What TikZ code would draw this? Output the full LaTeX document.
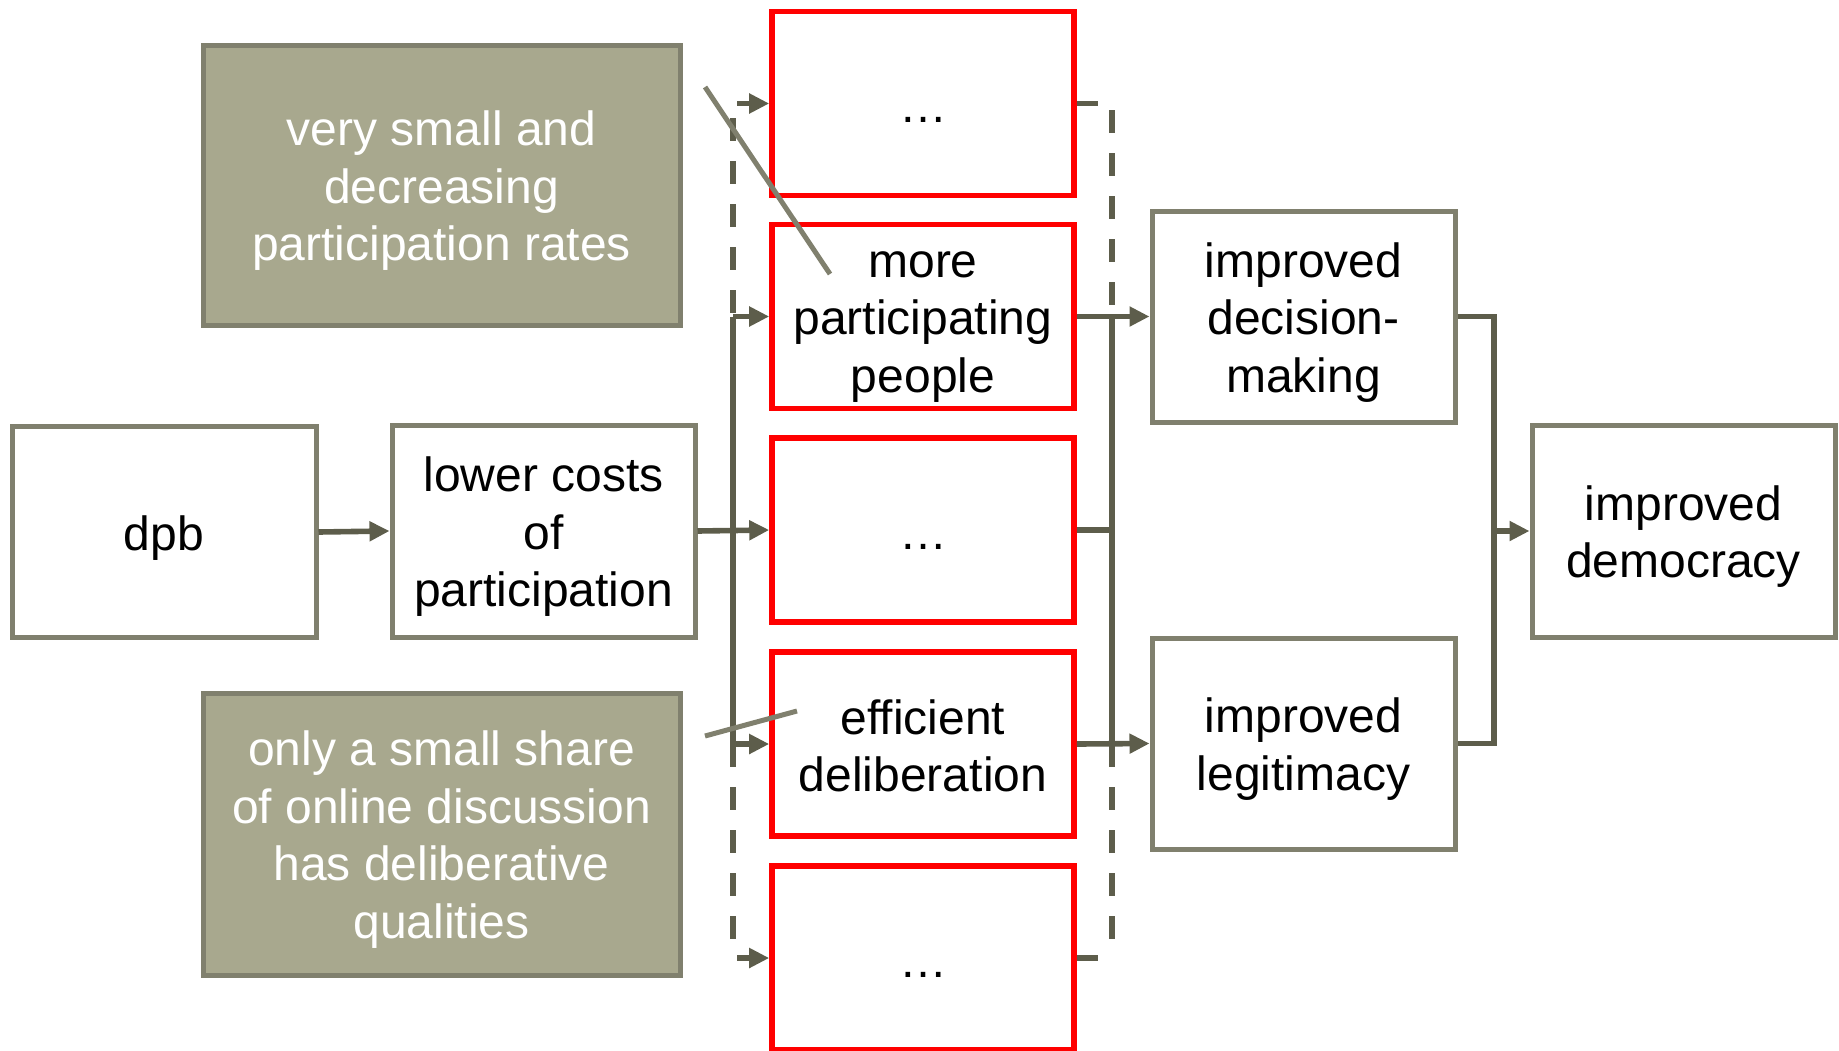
\documentclass[tikz,border=0pt]{standalone}
\usepackage{fontspec}
\setmainfont{Liberation Sans}
\usetikzlibrary{arrows.meta}
\definecolor{bordergray}{RGB}{128,128,110}
\definecolor{fillgray}{RGB}{168,168,142}
\definecolor{conngray}{RGB}{93,93,75}
\definecolor{pure red}{RGB}{255,0,0}
\newcommand\ms{\rule[-4pt]{0pt}{27pt}}
\tikzset{
  box/.style={draw=bordergray, line width=2.5pt, fill=white, align=center,
    minimum width=151.5pt, minimum height=105.5pt, inner sep=0pt,
    font=\fontsize{24}{28.75}\selectfont, text=black},
  graybox/.style={box, fill=fillgray, text=white, minimum width=238.5pt, minimum height=140pt},
  redbox/.style={box, draw=pure red, line width=2.8pt, minimum width=151pt, minimum height=92pt},
  conn/.style={draw=conngray, line width=2.8pt},
  arr/.style={conn, -{Triangle[length=10pt,width=9.5pt]}},
  dashedconn/.style={conn, dash pattern=on 11.5pt off 10pt},
  blockline/.style={draw=bordergray, line width=2.5pt}
}
\begin{document}
\begin{tikzpicture}[x=0.5pt,y=-0.5pt]
\useasboundingbox (0,0) rectangle (1839,1050);
% gray problem boxes
\node[graybox] (g1) at (441.5,185) {\ms very small and\\\ms decreasing\\\ms participation rates};
\node[graybox, minimum height=141pt] (g2) at (441.5,834) {\ms only a small share\\\ms of online discussion\\\ms has deliberative\\\ms qualities};
% left boxes
\node[box, minimum width=152pt] (dpb) at (164,532) {\ms dpb};
\node[box, minimum height=106pt] (lc) at (543.5,531) {\ms lower costs\\\ms of\\\ms participation};
% red boxes
\node[redbox] (r1) at (923,103.5) {\ms …};
\node[redbox] (r2) at (923,316.5) {\ms more\\\ms participating\\\ms people};
\node[redbox] (r3) at (923,530) {\ms …};
\node[redbox] (r4) at (923,744) {\ms efficient\\\ms deliberation};
\node[redbox] (r5) at (923,958) {\ms …};
% right boxes
\node[box] (dm) at (1303.5,316.5) {\ms improved\\\ms decision-\\\ms making};
\node[box] (lg) at (1303.5,743.5) {\ms improved\\\ms legitimacy};
\node[box, minimum height=106pt] (dem) at (1683.5,531) {\ms improved\\\ms democracy};
% coordinates
\coordinate (lb2) at (733,316.5);
\coordinate (lb4) at (733,744);
\coordinate (lbtop) at (733,118);
\coordinate (lbbot) at (733,944);
\coordinate (lstub1) at (737,103.5);
\coordinate (lstub5) at (737,958);
\coordinate (rb2) at (1112,316.5);
\coordinate (rb3) at (1112,530);
\coordinate (rb4) at (1112,744);
\coordinate (rbtop) at (1112,110);
\coordinate (rbbot) at (1112,952);
\coordinate (rstub1) at (1098,103.5);
\coordinate (rstub5) at (1098,958);
\coordinate (jx) at (1494,531);
\coordinate (d1a) at (705,87);
\coordinate (d1b) at (830,274);
\coordinate (d2a) at (705,736);
\coordinate (d2b) at (797,711);
% connectors left
\draw[arr] (dpb.east) -- (lc.west);
\draw[arr] (lc.east) -- (r3.west);
\draw[conn] (lb2) -- (lb4);
\draw[dashedconn] (lbtop) -- (lb2);
\draw[dashedconn] (lb4) -- (lbbot);
\draw[arr] (lb2) -- (r2.west);
\draw[arr] (lb4) -- (r4.west);
\draw[arr] (lstub1) -- (r1.west);
\draw[arr] (lstub5) -- (r5.west);
% connectors right
\draw[conn] (r1.east) -- (rstub1);
\draw[conn] (r5.east) -- (rstub5);
\draw[dashedconn] (rbtop) -- (rb2);
\draw[dashedconn] (rb4) -- (rbbot);
\draw[conn] (rb2) -- (rb4);
\draw[conn] (r3.east) -- (rb3);
\draw[arr] (r2.east) -- (dm.west);
\draw[arr] (r4.east) -- (lg.west);
\draw[conn] (dm.east) -| (jx) |- (lg.east);
\draw[arr] (jx) -- (dem.west);
% blocking lines
\draw[blockline] (d1a) -- (d1b);
\draw[blockline] (d2a) -- (d2b);
\end{tikzpicture}
\end{document}
